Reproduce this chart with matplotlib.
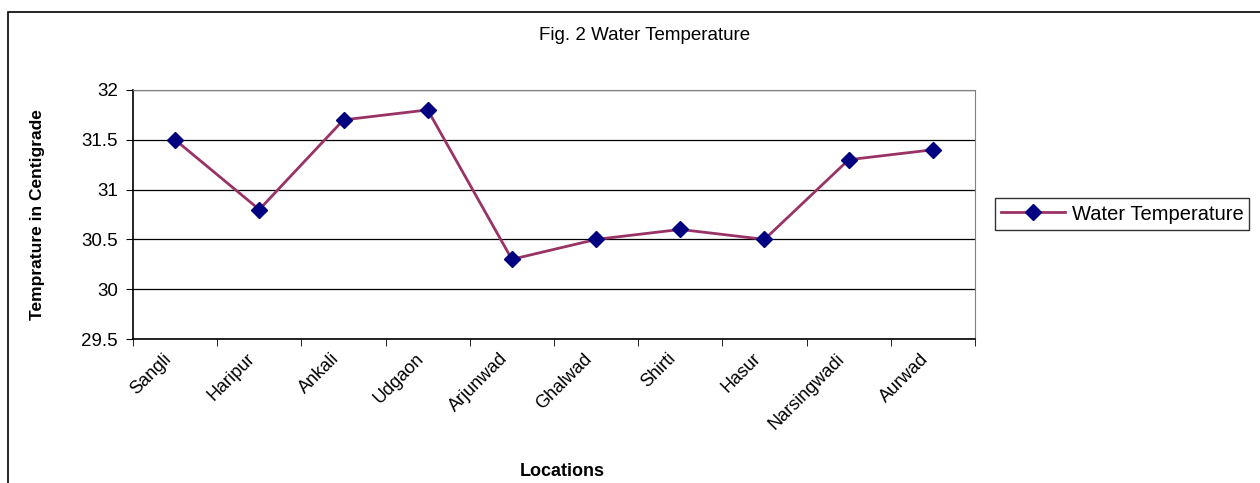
import numpy as np
import matplotlib.pyplot as plt
from matplotlib.patches import Rectangle

plt.rcParams['font.family'] = ['Liberation Sans', 'DejaVu Sans']

locations = ['Sangli', 'Haripur', 'Ankali', 'Udgaon', 'Arjunwad', 'Ghalwad',
             'Shirti', 'Hasur', 'Narsingwadi', 'Aurwad']
temps = [31.5, 30.8, 31.7, 31.8, 30.3, 30.5, 30.6, 30.5, 31.3, 31.4]
yticks = [29.5, 30, 30.5, 31, 31.5, 32]

W, H = 1260, 483
fig = plt.figure(figsize=(12.6, 4.83), dpi=100)
ax = fig.add_axes([133/W, 1 - 339/H, (975 - 133)/W, (339 - 90)/H])

# outer chart border (cut off at right and bottom)
fig.patches.append(Rectangle((8/W, -0.05), 1.1, 1 - 12/H + 0.05,
                             transform=fig.transFigure, fill=False,
                             edgecolor='black', linewidth=1.2))

x = np.arange(len(locations))
ax.plot(x, temps, color='#993366', linewidth=2, marker='D', markersize=8,
        markerfacecolor='#000080', markeredgecolor='#000080',
        label='Water Temperature', zorder=3)

ax.set_xlim(-0.5, len(locations) - 0.5)
ax.set_ylim(29.5, 32)
ax.set_yticks(yticks)
ax.set_yticklabels([f'{v:g}' for v in yticks], fontsize=13.5)
ax.yaxis.grid(True, color='black', linewidth=0.9)
ax.set_axisbelow(True)

# category labels sit a little left of the point, as in the original
ax.set_xticks(x - 0.15)
ax.set_xticklabels(locations, rotation=45, ha='right', rotation_mode='anchor', fontsize=13)
ax.set_xticks(np.arange(-0.5, len(locations), 1), minor=True)
ax.tick_params(axis='x', which='major', length=0, pad=8)
ax.tick_params(axis='x', which='minor', length=5, direction='out', color='black')
ax.tick_params(axis='y', length=5, direction='out', pad=6)

for s in ['top', 'right']:
    ax.spines[s].set_color('#808080')
for s in ['left', 'bottom']:
    ax.spines[s].set_color('black')
    ax.spines[s].set_linewidth(1.2)

ax.set_ylabel('Temprature in Centigrade', fontsize=12.5, fontweight='bold', labelpad=26)
fig.text(562/W, 1 - 471/H, 'Locations', ha='center', va='center',
         fontsize=13, fontweight='bold')
fig.text(645/W, 1 - 35/H, 'Fig. 2 Water Temperature', ha='center', va='center', fontsize=13.5)

leg = ax.legend(loc='center left', bbox_to_anchor=(995/W, 1 - 214/H),
                bbox_transform=fig.transFigure, fontsize=14.5, frameon=True,
                fancybox=False, edgecolor='black', handlelength=3.2,
                borderpad=0.3, handletextpad=0.3, borderaxespad=0)
leg.get_frame().set_linewidth(1)

fig.savefig('out.png', dpi=100)
